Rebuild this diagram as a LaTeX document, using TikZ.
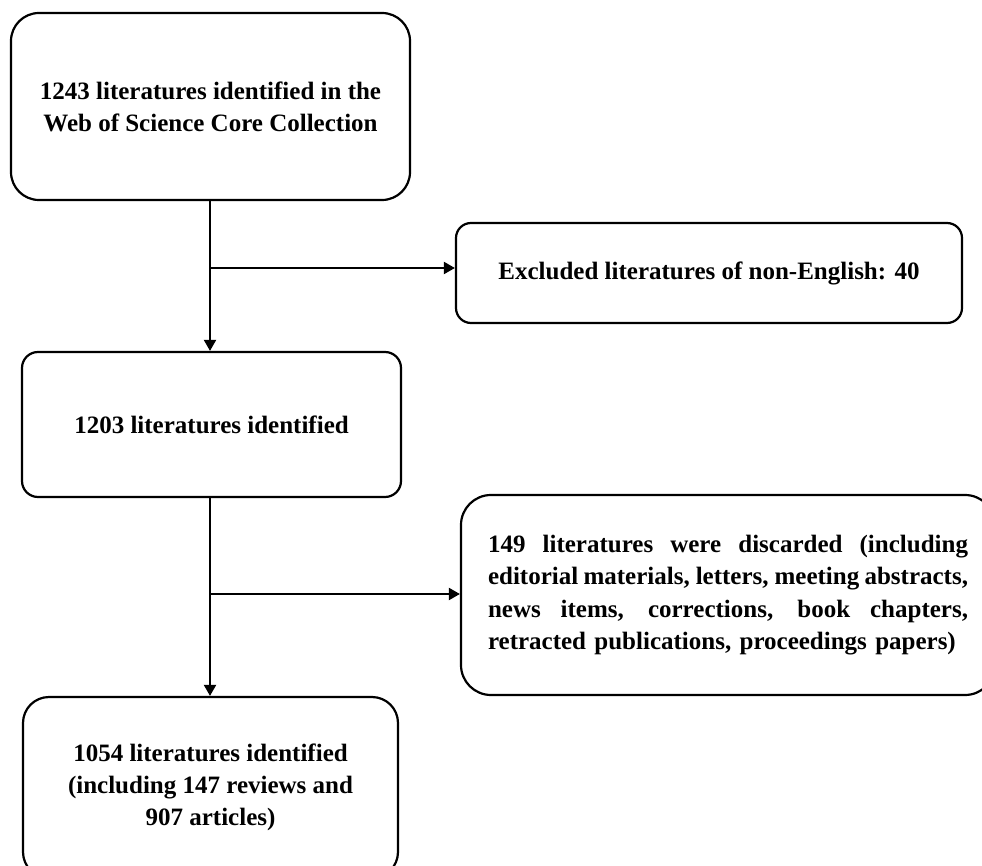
\documentclass[tikz,border=0pt]{standalone}
\usepackage{fontspec}
\setmainfont{Liberation Serif}
\usetikzlibrary{arrows.meta}
\newcommand\jline[1]{\leavevmode\hbox to 480pt{\spaceskip=.1em plus 1fil\relax #1}}
\begin{document}
\begin{tikzpicture}[x=1pt,y=-1pt,
  box/.style={draw, line width=2.2pt, rounded corners=#1, align=center, inner sep=0pt,
    font=\fontsize{25}{32}\selectfont\bfseries},
  box/.default=15pt,
  arr/.style={line width=2pt, -{Triangle[length=11pt,width=12pt]}}]
\useasboundingbox (0,0) rectangle (982,866);
\clip (0,0) rectangle (982,866);
\node[box=28pt, minimum width=399pt, minimum height=187pt] (b1) at (210.5,106.5)
  {1243 literatures identified in the\\Web of Science Core Collection};
\node[box=15pt, minimum width=506pt, minimum height=100pt] (b2) at (709,273)
  {Excluded literatures of non-English: 40};
\node[box=16pt, minimum width=379pt, minimum height=145pt] (b3) at (211.5,424.5)
  {1203 literatures identified};
\node[box=30pt, minimum width=534pt, minimum height=200pt, align=left, text width=480pt,
  font=\fontsize{25}{32.5}\selectfont\bfseries] (b4) at (728,595)
  {\jline{149 literatures were discarded (including}\\
   \jline{editorial materials, letters, meeting abstracts,}\\
   \jline{news items, corrections, book chapters,}\\
   retracted publications, proceedings papers)};
\node[box=26pt, minimum width=375pt, minimum height=181pt] (b5) at (210.5,787.5)
  {1054 literatures identified\\(including 147 reviews and\\907 articles)};
\coordinate (j1) at (210,268);
\coordinate (j2) at (210,594);
\draw[arr] (j1 |- b1.south) -- (j1 |- b3.north);
\draw[arr] (j1) -- (j1 -| b2.west);
\draw[arr] (j2 |- b3.south) -- (j2 |- b5.north);
\draw[arr] (j2) -- (j2 -| b4.west);
\end{tikzpicture}
\end{document}
